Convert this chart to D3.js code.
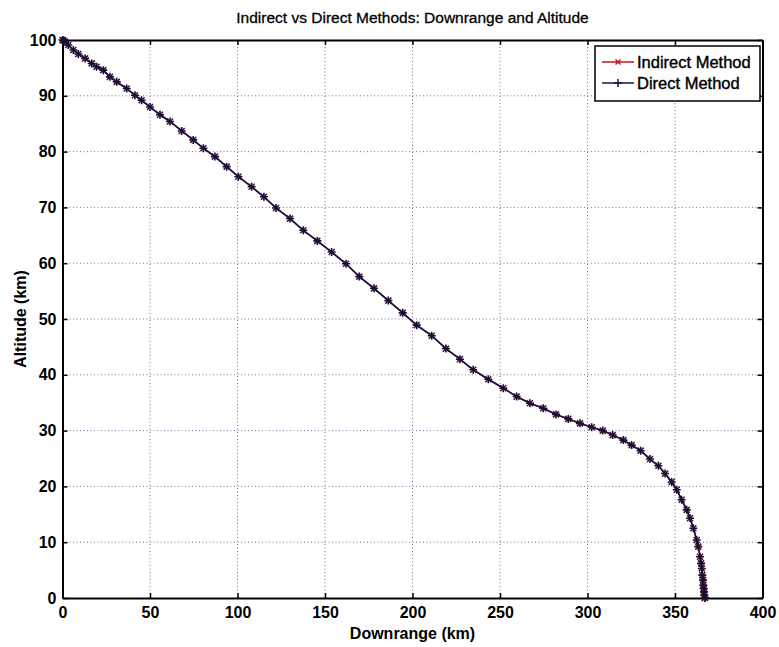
<!DOCTYPE html>
<html>
<head>
<meta charset="utf-8">
<script src="https://cdn.jsdelivr.net/npm/d3@7"></script>
<style>
  body { margin: 0; background: #fff; }
  svg { font-family: "Liberation Sans", Arial, sans-serif; }
</style>
</head>
<body>
<div id="chart"></div>
<script>
// downrange (km) and altitude (km)
var downrange = [0, 0.5, 1.5, 3.3, 6.2, 9.0, 12.9, 16.7, 19.5, 23.3, 27.1, 31.0, 36.7, 41.4, 45.2,
  50.0, 55.7, 61.4, 68.1, 74.7, 80.5, 87.1, 93.8, 100.5, 108.1, 115.1, 122.0, 130.0, 137.6,
  145.6, 153.8, 162.0, 169.6, 178.0, 186.2, 194.4, 202.4, 211.0, 219.1, 227.1, 234.7, 243.3,
  251.9, 259.5, 267.1, 274.7, 282.0, 289.0, 295.7, 302.4, 308.7, 314.4, 320.5, 325.2, 330.4,
  335.7, 340.5, 344.3, 348.1, 351.0, 353.8, 356.7, 358.6, 360.5, 362.4, 363.3, 364.3, 364.9,
  365.3, 365.6, 366.0, 366.2, 366.4, 366.6, 366.7, 367.0, 367.1];
var altitude = [100, 99.9, 99.7, 99.1, 98.2, 97.5, 96.7, 95.8, 95.2, 94.6, 93.4, 92.5, 91.3, 90.1, 89.2,
  88.0, 86.6, 85.4, 83.7, 82.1, 80.6, 79.1, 77.3, 75.5, 73.7, 71.9, 69.9, 68.0, 65.9,
  64.0, 62.0, 59.9, 57.6, 55.5, 53.3, 51.1, 48.9, 47.0, 44.7, 42.8, 40.9, 39.2,
  37.6, 36.1, 34.9, 34.0, 32.9, 32.1, 31.3, 30.6, 30.0, 29.2, 28.3, 27.4, 26.4,
  24.9, 23.7, 22.3, 20.8, 19.4, 17.6, 15.8, 14.3, 12.5, 10.4, 9.2, 7.4, 6.2,
  5.3, 4.1, 3.2, 2.3, 1.7, 1.1, 0.5, 0.1, 0];
// both methods overlap on the picture
var indirectX = downrange, indirectY = altitude;
var directX = downrange, directY = altitude;

var xTicks = [0, 50, 100, 150, 200, 250, 300, 350, 400];
var yTicks = [0, 10, 20, 30, 40, 50, 60, 70, 80, 90, 100];

var W = 779, H = 647;
var m = {left: 62.5, right: 16.5, top: 40, bottom: 49};
var iw = W - m.left - m.right, ih = H - m.top - m.bottom;

var svg = d3.select("#chart").append("svg").attr("width", W).attr("height", H);
var g = svg.append("g").attr("transform", "translate(" + m.left + "," + m.top + ")");

var x = d3.scaleLinear().domain([0, 400]).range([0, iw]);
var y = d3.scaleLinear().domain([0, 100]).range([ih, 0]);

// dotted grid
g.selectAll(".vg").data(xTicks.slice(1, -1)).enter().append("line")
  .attr("x1", d => x(d)).attr("x2", d => x(d)).attr("y1", 0).attr("y2", ih)
  .attr("stroke", "#70708c").attr("stroke-width", 1).attr("stroke-dasharray", "1,2.5");
g.selectAll(".hg").data(yTicks.slice(1, -1)).enter().append("line")
  .attr("x1", 0).attr("x2", iw).attr("y1", d => y(d)).attr("y2", d => y(d))
  .attr("stroke", "#7676a8").attr("stroke-width", 1).attr("stroke-dasharray", "1,2.5");

// axes, ticks pointing inward like matlab
var xAxis = g.append("g").attr("transform", "translate(0," + ih + ")")
  .call(d3.axisBottom(x).tickValues(xTicks).tickSizeInner(-5).tickSizeOuter(0).tickPadding(10));
var yAxis = g.append("g")
  .call(d3.axisLeft(y).tickValues(yTicks).tickSizeInner(-5).tickSizeOuter(0).tickPadding(6));
g.append("g")
  .call(d3.axisTop(x).tickValues(xTicks).tickSizeInner(-5).tickSizeOuter(0).tickFormat(""));
g.append("g").attr("transform", "translate(" + iw + ",0)")
  .call(d3.axisRight(y).tickValues(yTicks).tickSizeInner(-5).tickSizeOuter(0).tickFormat(""));
g.selectAll(".domain").attr("stroke", "#000").attr("stroke-width", 2);
g.selectAll(".tick line").attr("stroke", "#000").attr("stroke-width", 1.5);
g.selectAll(".tick text").attr("fill", "#000").style("font-size", "16px").style("font-weight", "bold");
xAxis.selectAll(".tick text").attr("dy", "0.62em");

// lines
var line = d3.line().x(d => x(d[0])).y(d => y(d[1]));
var ind = d3.zip(indirectX, indirectY);
var dir = d3.zip(directX, directY);

g.append("path").datum(ind).attr("d", line)
  .attr("fill", "none").attr("stroke", "#c0181c").attr("stroke-width", 1.5);
g.selectAll(".mx").data(ind).enter().append("path")
  .attr("transform", d => "translate(" + x(d[0]) + "," + y(d[1]) + ")")
  .attr("d", "M-3,-3L3,3M-3,3L3,-3")
  .attr("stroke", "#5a1020").attr("stroke-width", 1.6);

g.append("path").datum(dir).attr("d", line)
  .attr("fill", "none").attr("stroke", "#14144a").attr("stroke-width", 1.6);
g.selectAll(".mp").data(dir).enter().append("path")
  .attr("transform", d => "translate(" + x(d[0]) + "," + y(d[1]) + ")")
  .attr("d", "M-4,0L4,0M0,-4L0,4")
  .attr("stroke", "#10103a").attr("stroke-width", 1.6);

// title and labels
svg.append("text").attr("x", m.left + iw / 2).attr("y", 23)
  .attr("text-anchor", "middle").style("font-size", "15.5px")
  .attr("stroke", "#000").attr("stroke-width", 0.3)
  .text("Indirect vs Direct Methods: Downrange and Altitude");
svg.append("text").attr("x", m.left + iw / 2).attr("y", 639)
  .attr("text-anchor", "middle").style("font-size", "16px").style("font-weight", "bold").text("Downrange (km)");
svg.append("text").attr("transform", "translate(26," + (m.top + ih / 2) + ") rotate(-90)")
  .attr("text-anchor", "middle").style("font-size", "16px").style("font-weight", "bold").text("Altitude (km)");

// legend
var lg = svg.append("g").attr("transform", "translate(595,46)");
lg.append("rect").attr("width", 165).attr("height", 55)
  .attr("fill", "#fff").attr("stroke", "#000").attr("stroke-width", 1.5);
var items = [["Indirect Method", "#c0181c", "M-2.5,-2.5L2.5,2.5M-2.5,2.5L2.5,-2.5", 16],
             ["Direct Method", "#14144a", "M-4,0L4,0M0,-4L0,4", 37]];
items.forEach(function (it) {
  lg.append("line").attr("x1", 7).attr("x2", 39).attr("y1", it[3]).attr("y2", it[3])
    .attr("stroke", it[1]).attr("stroke-width", 1.5);
  lg.append("path").attr("transform", "translate(23," + it[3] + ")").attr("d", it[2])
    .attr("stroke", it[1]).attr("stroke-width", 1.5);
  lg.append("text").attr("x", 42).attr("y", it[3]).attr("dy", "0.36em")
    .style("font-size", "16.5px").attr("stroke", "#000").attr("stroke-width", 0.4).text(it[0]);
});
</script>
</body>
</html>
